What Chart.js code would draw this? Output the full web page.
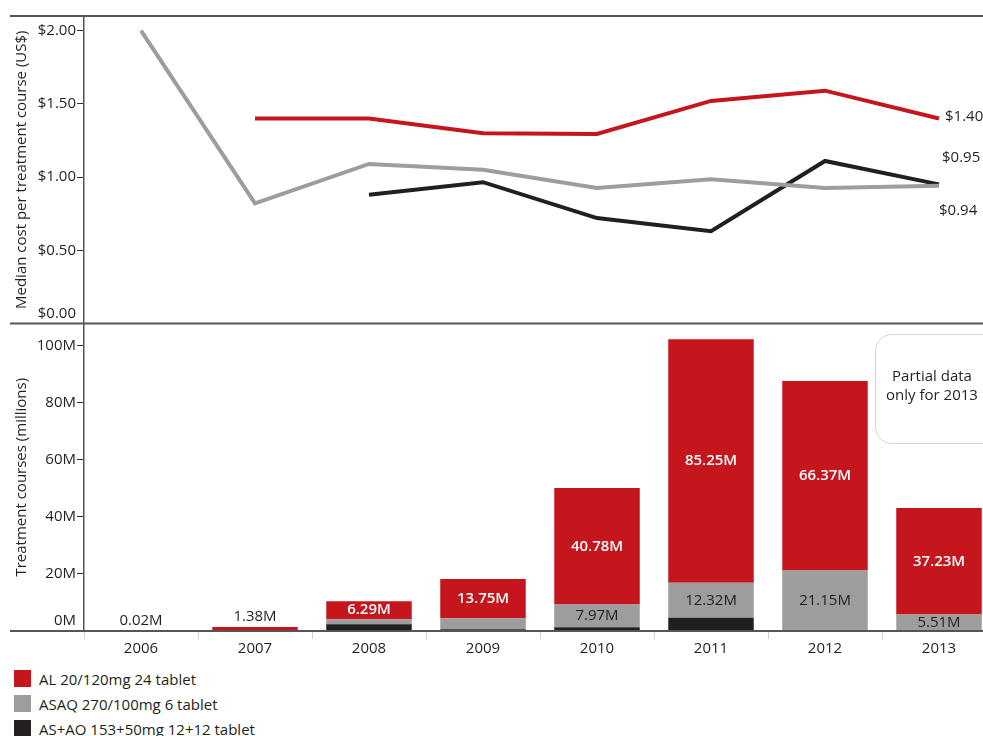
<!DOCTYPE html>
<html>
<head>
<meta charset="utf-8">
<script src="https://cdn.jsdelivr.net/npm/chart.js@4/dist/chart.umd.min.js"></script>
<style>
  body { margin:0; background:#fff; overflow:hidden; width:983px; height:736px; font-family:"Open Sans", sans-serif; }
  #wrap { position:absolute; left:0; top:0; width:996px; height:660px; }
  #legend { position:absolute; left:14px; top:670px; font-size:15px; color:#231f20; }
  #legend div { height:25px; line-height:18px; }
  #legend span { display:inline-block; width:17px; height:17px; vertical-align:top; margin-right:8px; }
</style>
</head>
<body>
<div id="wrap"><canvas id="myChart"></canvas></div>
<div id="legend"></div>
<script>
var years = ['2006','2007','2008','2009','2010','2011','2012','2013']

// median cost per treatment course (US$)
var costAL   = [null, 1.40, 1.40, 1.30, 1.295, 1.52, 1.59, 1.40]
var costASAQ = [2.00, 0.82, 1.09, 1.05, 0.925, 0.985, 0.925, 0.94]
var costASAO = [null, null, 0.88, 0.965, 0.72, 0.63, 1.11, 0.95]
var endLabels = ['$1.40', '$0.94', '$0.95']

// treatment courses (millions)
var volAL   = [0.02, 1.38, 6.29, 13.75, 40.78, 85.25, 66.37, 37.23]
var volASAQ = [0, 0, 1.75, 3.9, 7.97, 12.32, 21.15, 5.51]
var volASAO = [0, 0, 2.4, 0.6, 1.3, 4.6, 0, 0.3]
var grayLabels = [null, null, null, null, '7.97M', '12.32M', '21.15M', '5.51M']

var names = ['AL 20/120mg 24 tablet', 'ASAQ 270/100mg 6 tablet', 'AS+AO 153+50mg 12+12 tablet']
var RED = '#c4161c', GRAY = '#9d9d9d', BLACK = '#231f20'
var FONT = '"Open Sans", sans-serif'

$legend = document.getElementById('legend')
;[RED, GRAY, BLACK].forEach(function(c, i){
  $legend.innerHTML += '<div><span style="background:' + c + '"></span>' + names[i] + '</div>'
})

var extras = {
  id: 'extras',
  afterDatasetsDraw: function(chart){
    var ctx = chart.ctx, area = chart.chartArea
    var yTop = chart.scales.yTop, yBot = chart.scales.yBot
    ctx.save()
    // horizontal rules
    ctx.strokeStyle = '#555'
    ctx.lineWidth = 2
    ;[area.top, yTop.bottom, yBot.getPixelForValue(0)].forEach(function(y){
      ctx.beginPath(); ctx.moveTo(10, y); ctx.lineTo(chart.width, y); ctx.stroke()
    })
    ctx.font = '15px ' + FONT
    ctx.fillStyle = BLACK
    ctx.textAlign = 'right'
    ctx.textBaseline = 'middle'
    ctx.fillText('$0.00', 76, yTop.getPixelForValue(0) - 10)
    ctx.fillText('0M', 76, yBot.getPixelForValue(0) - 10)

    // end labels of the lines
    ctx.textAlign = 'left'
    var offs = [[6, -2], [0, 25], [3, -27]]
    for (var d = 0; d < 3; d++) {
      var pt = chart.getDatasetMeta(d).data[7]
      ctx.fillText(endLabels[d], pt.x + offs[d][0], pt.y + offs[d][1])
    }

    // bar labels
    ctx.textAlign = 'center'
    var redMeta = chart.getDatasetMeta(5), grayMeta = chart.getDatasetMeta(4)
    for (var i = 0; i < years.length; i++) {
      var b = redMeta.data[i]
      var txt = volAL[i].toFixed(2) + 'M'
      if (volAL[i] < 3) {
        ctx.fillStyle = BLACK
        ctx.font = '15px ' + FONT
        ctx.fillText(txt, b.x, b.y - 10)
      } else {
        ctx.fillStyle = '#fff'
        ctx.font = '600 15px ' + FONT
        ctx.fillText(txt, b.x, (b.y + b.base) / 2)
      }
      if (grayLabels[i]) {
        var g = grayMeta.data[i]
        ctx.fillStyle = BLACK
        ctx.font = '15px ' + FONT
        ctx.fillText(grayLabels[i], g.x, (g.y + g.base) / 2)
      }
    }

    // note box
    ctx.strokeStyle = '#d4d4d4'
    ctx.lineWidth = 1
    ctx.beginPath()
    ctx.roundRect(875.5, 334.5, 130, 109, 16)
    ctx.stroke()
    ctx.fillStyle = BLACK
    ctx.font = '15px ' + FONT
    ctx.fillText('Partial data', 932, 377)
    ctx.fillText('only for 2013', 932, 396)
    ctx.restore()
  }
}

var lineDs = function(label, data, color){
  return { type:'line', label:label, data:data, yAxisID:'yTop', borderColor:color,
    borderWidth:4, pointRadius:0, fill:false, tension:0, order:0 }
}
var barDs = function(label, data, color){
  return { type:'bar', label:label, data:data, yAxisID:'yBot', backgroundColor:color,
    stack:'v', barPercentage:0.75, categoryPercentage:1, order:1 }
}

var tickFont = { family:FONT, size:15 }

var myChart = new Chart(document.getElementById('myChart'), {
  type: 'bar',
  data: {
    labels: years,
    datasets: [
      lineDs(names[0], costAL, RED),
      lineDs(names[1], costASAQ, GRAY),
      lineDs(names[2], costASAO, BLACK),
      barDs(names[2], volASAO, BLACK),
      barDs(names[1], volASAQ, GRAY),
      barDs(names[0], volAL, RED)
    ]
  },
  options: {
    responsive: true,
    maintainAspectRatio: false,
    animation: false,
    layout: { padding: { top: 16, left: 0, right: 0, bottom: 0 } },
    plugins: { legend: { display:false }, tooltip: { enabled:false } },
    scales: {
      x: {
        stacked: true,
        afterFit: function(s){ s.height = 29 },
        grid: { offset:true, drawOnChartArea:false, drawTicks:true, tickLength:8, color:'#d0d0d0' },
        border: { display:false },
        ticks: { color:BLACK, font:tickFont, padding:1 }
      },
      yBot: {
        type:'linear', position:'left', stack:'panels', stackWeight:1,
        stacked:true, min:0, max:107.7,
        afterFit: function(s){ s.width = 84 },
        afterBuildTicks: function(s){ s.ticks = [0, 20, 40, 60, 80, 100].map(function(v){ return {value:v} }) },
        grid: { drawOnChartArea:false, drawTicks:true, tickLength:7, color:'#333' },
        border: { display:true, color:'#555', width:1.5 },
        title: { display:true, text:'Treatment courses (millions)', color:BLACK, font:tickFont, padding:{ top:13, bottom:0 } },
        ticks: { color:BLACK, font:tickFont, padding:1,
          callback: function(v){ return v === 0 ? '' : v + 'M' } }
      },
      yTop: {
        type:'linear', position:'left', stack:'panels', stackWeight:1,
        min:0, max:2.1,
        afterFit: function(s){ s.width = 84 },
        afterBuildTicks: function(s){ s.ticks = [0, 0.5, 1, 1.5, 2].map(function(v){ return {value:v} }) },
        grid: { drawOnChartArea:false, drawTicks:true, tickLength:7, color:'#333' },
        border: { display:true, color:'#555', width:1.5 },
        title: { display:true, text:'Median cost per treatment course (US$)', color:BLACK, font:tickFont, padding:{ top:13, bottom:0 } },
        ticks: { color:BLACK, font:tickFont, padding:1,
          callback: function(v){ return v === 0 ? '' : '$' + v.toFixed(2) } }
      }
    }
  },
  plugins: [extras]
})
</script>
</body>
</html>
